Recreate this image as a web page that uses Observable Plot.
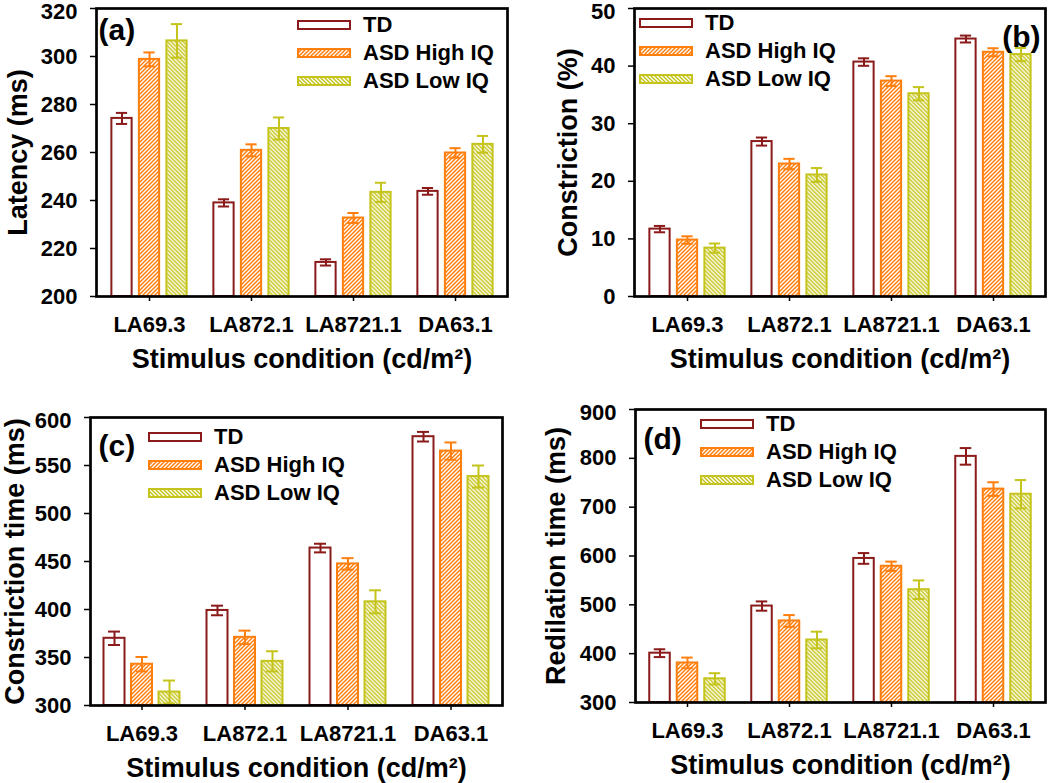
<!DOCTYPE html>
<html>
<head>
<meta charset="utf-8">
<script src="https://cdn.jsdelivr.net/npm/d3@7"></script>
<script src="https://cdn.jsdelivr.net/npm/@observablehq/plot@0.6"></script>
<style>
  html, body { margin: 0; padding: 0; background: #fff; }
  body { font-family: "Liberation Sans", Arial, sans-serif; color: #000; }
  #wrap { position: relative; width: 1050px; height: 783px; overflow: hidden; }
  .panel { position: absolute; }
  .legend { position: absolute; font-weight: bold; font-size: 22px; line-height: 28px; }
  .legend .item { display: flex; align-items: center; height: 28px; white-space: nowrap; }
  .legend svg { display: block; margin-right: 12px; }
</style>
</head>
<body>
<svg width="0" height="0" style="position:absolute">
  <defs>
    <pattern id="hatchHigh" patternUnits="userSpaceOnUse" width="4" height="4">
      <rect width="4" height="4" fill="#ff7f0e"></rect>
      <path d="M-1,1 L1,-1 M0,4 L4,0 M3,5 L5,3" stroke="#fff" stroke-width="1.3"></path>
    </pattern>
    <pattern id="hatchLow" patternUnits="userSpaceOnUse" width="4" height="4">
      <rect width="4" height="4" fill="#c4c41c"></rect>
      <path d="M-1,3 L1,5 M0,0 L4,4 M3,-1 L5,1" stroke="#fff" stroke-width="1.3"></path>
    </pattern>
  </defs>
</svg>
<div id="wrap"></div>
<script>
// ---------- data ----------
const categories = ["LA69.3", "LA872.1", "LA8721.1", "DA63.1"];
const groups = ["TD", "ASD High IQ", "ASD Low IQ"];
const xTitle = "Stimulus condition (cd/m²)";

// (a) Latency (ms)
const latencyTD = [274.2, 239.0, 214.2, 243.8];
const latencyTDErr = [2.3, 1.5, 1.3, 1.4];
const latencyHigh = [298.8, 260.9, 232.7, 259.8];
const latencyHighErr = [2.9, 2.5, 2.1, 2.0];
const latencyLow = [306.5, 270.0, 243.4, 263.4];
const latencyLowErr = [7.0, 4.6, 4.0, 3.5];
const latencyTicks = [200, 220, 240, 260, 280, 300, 320];

// (b) Constriction (%)
const constrictionTD = [11.7, 26.9, 40.7, 44.7];
const constrictionTDErr = [0.55, 0.7, 0.65, 0.6];
const constrictionHigh = [9.8, 23.0, 37.4, 42.4];
const constrictionHighErr = [0.65, 0.9, 0.85, 0.7];
const constrictionLow = [8.4, 21.1, 35.2, 42.0];
const constrictionLowErr = [0.8, 1.2, 1.15, 1.15];
const constrictionTicks = [0, 10, 20, 30, 40, 50];

// (c) Constriction time (ms)
const ctimeTD = [370, 399, 464, 580];
const ctimeTDErr = [7, 5, 4.5, 5];
const ctimeHigh = [343, 371, 447.5, 565];
const ctimeHighErr = [7.5, 7, 6, 9];
const ctimeLow = [314, 346, 408, 538.5];
const ctimeLowErr = [12, 10.5, 12, 11.5];
const ctimeTicks = [300, 350, 400, 450, 500, 550, 600];

// (d) Redilation time (ms)
const rtimeTD = [401, 497.5, 595, 804];
const rtimeTDErr = [8, 9.5, 11, 17];
const rtimeHigh = [381, 467, 579, 737];
const rtimeHighErr = [11, 12, 9.5, 14];
const rtimeLow = [348.5, 428, 531, 726.5];
const rtimeLowErr = [11.5, 17, 19, 29];
const rtimeTicks = [300, 400, 500, 600, 700, 800, 900];

// ---------- styles ----------
const strokes = ["#8b1a1a", "#ff7f0e", "#c4c41c"];
const fills = ["#ffffff", "url(#hatchHigh)", "url(#hatchLow)"];

const wrap = document.getElementById("wrap");

function panel(cfg) {
  const {left, top, width, height, ml, mr, mt, mb, values, errs, ticks, ylabel,
         yTitleDx, letter, letterAnchor, letterDx, letterDy, legend} = cfg;
  const domain = [ticks[0], ticks[ticks.length - 1]];
  const topTick = ticks[ticks.length - 1];
  const fw = width - ml - mr;
  const bw = fw / categories.length;
  const barW = 21, step = 27.5, capW = 12;
  const inset = (bw - barW) / 2, capInset = (bw - capW) / 2;

  const rowsBy = groups.map((g, gi) => categories.map((c, ci) => ({
    cat: c, group: g, v: values[gi][ci], e: errs[gi][ci]
  })));

  const marks = [];
  rowsBy.forEach((rows, gi) => {
    marks.push(Plot.barY(rows, {
      x: "cat", y1: () => domain[0], y2: "v", dx: (gi - 1) * step,
      insetLeft: inset, insetRight: inset,
      fill: fills[gi], stroke: strokes[gi], strokeWidth: 2
    }));
  });
  rowsBy.forEach((rows, gi) => {
    const dx = (gi - 1) * step;
    marks.push(Plot.ruleX(rows, {x: "cat", y1: d => d.v - d.e, y2: d => d.v + d.e, dx, stroke: strokes[gi], strokeWidth: 2}));
    marks.push(Plot.tickY(rows, {x: "cat", y: d => d.v + d.e, dx, insetLeft: capInset, insetRight: capInset, stroke: strokes[gi], strokeWidth: 2}));
    marks.push(Plot.tickY(rows, {x: "cat", y: d => d.v - d.e, dx, insetLeft: capInset, insetRight: capInset, stroke: strokes[gi], strokeWidth: 2}));
  });
  marks.push(Plot.frame({stroke: "#000", strokeWidth: 2.7}));
  marks.push(Plot.axisY({ticks, tickSize: 6, tickPadding: 13, label: null, strokeWidth: 1.5,
    tickFormat: d => d === topTick ? "" : d}));
  marks.push(Plot.axisY({ticks: [topTick], tickSize: 0, tickPadding: 19, dy: 3, label: null}));
  marks.push(Plot.axisX({tickSize: 5, tickPadding: 15, label: null, strokeWidth: 1.5}));
  marks.push(Plot.text([ylabel], {text: d => d, frameAnchor: "left", rotate: -90, dx: yTitleDx,
    textAnchor: "middle", lineAnchor: "middle", fontSize: 27, fontWeight: "bold"}));
  marks.push(Plot.text([xTitle], {text: d => d, frameAnchor: "bottom", dy: 63,
    textAnchor: "middle", lineAnchor: "middle", fontSize: 27, fontWeight: "bold"}));
  marks.push(Plot.text([letter], {text: d => d, frameAnchor: letterAnchor, dx: letterDx, dy: letterDy,
    lineAnchor: "middle", textAnchor: letterAnchor.endsWith("right") ? "end" : "start", fontSize: 30, fontWeight: "bold"}));

  const chart = Plot.plot({
    width, height, marginLeft: ml, marginRight: mr, marginTop: mt, marginBottom: mb,
    x: {domain: categories, padding: 0},
    y: {domain},
    style: {fontFamily: "'Liberation Sans', Arial, sans-serif", fontSize: "22px", fontWeight: "bold",
            background: "transparent", overflow: "visible", color: "#000"},
    marks
  });
  const holder = document.createElement("div");
  holder.className = "panel";
  holder.style.left = left + "px";
  holder.style.top = top + "px";
  holder.appendChild(chart);
  wrap.appendChild(holder);

  // legend
  const lg = d3.select(wrap).append("div").attr("class", "legend")
    .style("left", (left + legend[0]) + "px").style("top", (top + legend[1] - 14) + "px");
  groups.forEach((g, gi) => {
    const it = lg.append("div").attr("class", "item");
    const s = it.append("svg").attr("width", 54).attr("height", 10);
    s.append("rect").attr("x", 1).attr("y", 1).attr("width", 52).attr("height", 8)
      .attr("fill", fills[gi]).attr("stroke", strokes[gi]).attr("stroke-width", 2);
    it.append("span").text(g);
  });
}

panel({left: 0, top: 0, width: 525, height: 392, ml: 96, mr: 18, mt: 8, mb: 96,
  values: [latencyTD, latencyHigh, latencyLow], errs: [latencyTDErr, latencyHighErr, latencyLowErr],
  ticks: latencyTicks, ylabel: "Latency (ms)", yTitleDx: -78,
  letter: "(a)", letterAnchor: "top-left", letterDx: 2, letterDy: 22, legend: [297, 25]});

panel({left: 525, top: 0, width: 525, height: 392, ml: 109, mr: 5, mt: 8, mb: 96,
  values: [constrictionTD, constrictionHigh, constrictionLow], errs: [constrictionTDErr, constrictionHighErr, constrictionLowErr],
  ticks: constrictionTicks, ylabel: "Constriction (%)", yTitleDx: -66,
  letter: "(b)", letterAnchor: "top-right", letterDx: -5, letterDy: 29, legend: [114, 23]});

panel({left: 0, top: 392, width: 525, height: 391, ml: 90, mr: 23, mt: 25, mb: 78,
  values: [ctimeTD, ctimeHigh, ctimeLow], errs: [ctimeTDErr, ctimeHighErr, ctimeLowErr],
  ticks: ctimeTicks, ylabel: "Constriction time (ms)", yTitleDx: -75,
  letter: "(c)", letterAnchor: "top-left", letterDx: 8, letterDy: 29, legend: [148, 45]});

panel({left: 525, top: 392, width: 525, height: 391, ml: 110, mr: 5, mt: 17, mb: 81,
  values: [rtimeTD, rtimeHigh, rtimeLow], errs: [rtimeTDErr, rtimeHighErr, rtimeLowErr],
  ticks: rtimeTicks, ylabel: "Redilation time (ms)", yTitleDx: -79,
  letter: "(d)", letterAnchor: "top-left", letterDx: 8, letterDy: 30, legend: [175, 32]});
</script>
</body>
</html>
